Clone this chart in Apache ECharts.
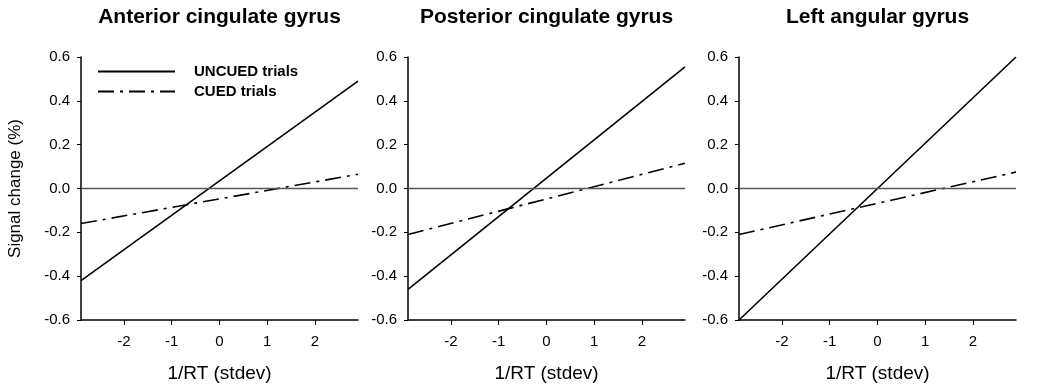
<!DOCTYPE html>
<html>
<head>
<meta charset="utf-8">
<script src="https://cdn.jsdelivr.net/npm/echarts@6/dist/echarts.min.js"></script>
<style>
  html, body { margin: 0; padding: 0; background: #fff; }
  #chart { width: 1050px; height: 391px; }
</style>
</head>
<body>
<div id="chart"></div>
<script>
// 数据
var panelTitles = ['Anterior cingulate gyrus', 'Posterior cingulate gyrus', 'Left angular gyrus'];
var xEnds = [-2.9, 2.9];
var xTicks = [-2, -1, 0, 1, 2];
var uncued = [[-0.42, 0.49], [-0.46, 0.555], [-0.6, 0.6]];
var cued = [[-0.16, 0.065], [-0.21, 0.115], [-0.21, 0.075]];
var seriesNames = ['UNCUED trials', 'CUED trials'];

var gridLefts = [81, 408, 739];
var gridWidth = 277;
var FONT = 'Liberation Sans, Arial, sans-serif';
var DASH_DOT = [16, 6, 3, 6];

var myChart = echarts.init(document.getElementById('chart'));

var grids = [], xAxes = [], yAxes = [], series = [], titles = [];

for (var i = 0; i < 3; i++) {
	grids.push({ left: gridLefts[i], top: 57, width: gridWidth, height: 263 });
	titles.push({
		text: panelTitles[i],
		left: gridLefts[i] + gridWidth / 2,
		top: 7,
		padding: 0,
		textAlign: 'center',
		textStyle: { fontFamily: FONT, fontSize: 21, fontWeight: 'bold', color: '#000' }
	});
	xAxes.push({
		type: 'value', gridIndex: i, min: xEnds[0], max: xEnds[1],
		name: '1/RT (stdev)', nameLocation: 'middle', nameGap: 44,
		nameTextStyle: { fontFamily: FONT, fontSize: 19, color: '#000' },
		axisLine: { onZero: false, lineStyle: { color: '#000', width: 1.5 } },
		axisTick: { show: true, length: 5, customValues: xTicks, lineStyle: { color: '#000' } },
		axisLabel: { customValues: xTicks, margin: 14, fontFamily: FONT, fontSize: 15, color: '#000',
			formatter: function (v) { return v; } },
		splitLine: { show: false }
	});
	yAxes.push({
		type: 'value', gridIndex: i, min: -0.6, max: 0.6, interval: 0.2,
		name: i === 0 ? 'Signal change (%)' : '', nameLocation: 'middle', nameGap: 57,
		nameTextStyle: { fontFamily: FONT, fontSize: 17, color: '#000' },
		axisLine: { show: true, onZero: false, lineStyle: { color: '#000', width: 1.5 } },
		axisTick: { show: true, length: 4, lineStyle: { color: '#000' } },
		axisLabel: { margin: 11, fontFamily: FONT, fontSize: 15, color: '#000',
			formatter: function (v) { return v.toFixed(1); } },
		splitLine: { show: false }
	});
	series.push({
		name: seriesNames[0], type: 'line', xAxisIndex: i, yAxisIndex: i,
		symbol: 'none', silent: true,
		data: [[xEnds[0], uncued[i][0]], [xEnds[1], uncued[i][1]]],
		lineStyle: { color: '#000', width: 1.6, type: 'solid' },
		itemStyle: { color: '#000' },
		markLine: {
			silent: true, symbol: 'none', label: { show: false },
			lineStyle: { color: '#555', width: 1.3, type: 'solid' },
			data: [{ yAxis: 0 }]
		},
		z: 3
	});
	series.push({
		name: seriesNames[1], type: 'line', xAxisIndex: i, yAxisIndex: i,
		symbol: 'none', silent: true,
		data: [[xEnds[0], cued[i][0]], [xEnds[1], cued[i][1]]],
		lineStyle: { color: '#000', width: 1.6, type: DASH_DOT },
		itemStyle: { color: '#000' },
		z: 3
	});
}

var option = {
	animation: false,
	title: titles,
	legend: {
		data: seriesNames,
		orient: 'vertical',
		left: 97, top: 64,
		padding: 0,
		itemWidth: 77, itemHeight: 16, itemGap: 5,
		selectedMode: false,
		itemStyle: { opacity: 0 },
		textStyle: { fontFamily: FONT, fontSize: 15, fontWeight: 'bold', color: '#000', padding: [0, 0, 0, 14] }
	},
	grid: grids,
	xAxis: xAxes,
	yAxis: yAxes,
	series: series
};
// 显示图表
myChart.setOption(option);
</script>
</body>
</html>
